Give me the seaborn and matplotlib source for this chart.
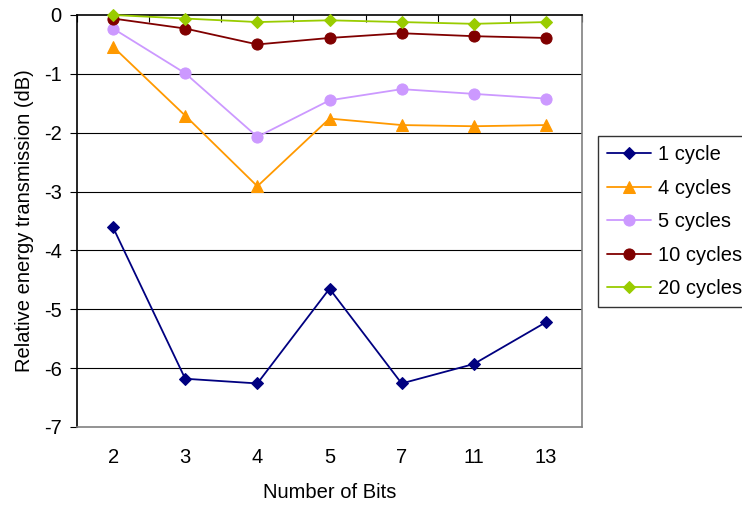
import numpy as np
import pandas as pd
import matplotlib
matplotlib.use("Agg")
import matplotlib.pyplot as plt
import seaborn as sns

bits = ["2", "3", "4", "5", "7", "11", "13"]
series_names = ["1 cycle", "4 cycles", "5 cycles", "10 cycles", "20 cycles"]
cycle1 = [-3.61, -6.18, -6.26, -4.65, -6.26, -5.93, -5.22]
cycle4 = [-0.54, -1.71, -2.91, -1.76, -1.87, -1.89, -1.87]
cycle5 = [-0.23, -0.99, -2.07, -1.45, -1.26, -1.34, -1.42]
cycle10 = [-0.06, -0.23, -0.50, -0.39, -0.31, -0.36, -0.39]
cycle20 = [0.0, -0.06, -0.12, -0.09, -0.12, -0.15, -0.12]
yticks = [0, -1, -2, -3, -4, -5, -6, -7]

colors = ["#000080", "#FF9900", "#CC99FF", "#800000", "#99CC00"]
markers = ["D", "^", "o", "o", "D"]
msizes = [6, 8, 8, 8, 6]

values = [cycle1, cycle4, cycle5, cycle10, cycle20]
df = pd.DataFrame({
    "bits": bits * len(series_names),
    "val": sum(values, []),
    "series": sum([[n] * len(bits) for n in series_names], []),
})

sns.set_theme(style="white")
plt.rcParams["font.family"] = ["Liberation Sans", "DejaVu Sans"]
plt.rcParams["axes.unicode_minus"] = False
plt.rcParams["text.color"] = "black"
plt.rcParams["axes.labelcolor"] = "black"
plt.rcParams["xtick.color"] = "black"
plt.rcParams["ytick.color"] = "black"

FS = 14.5

fig = plt.figure(figsize=(7.42, 5.07), dpi=100)
ax = fig.add_axes([77 / 742, 1 - 427 / 507, (582 - 77) / 742, (427 - 15) / 507])

for name, c, m, ms in zip(series_names, colors, markers, msizes):
    sub = df[df["series"] == name]
    sns.lineplot(data=sub, x="bits", y="val", ax=ax, color=c, marker=m,
                 markersize=ms, markeredgecolor=c, linewidth=1.3,
                 label=name, sort=False, clip_on=False, zorder=3)

ax.set_xlim(-0.5, 6.5)
ax.set_ylim(-7, 0)
ax.set_yticks(yticks)
ax.set_yticklabels([str(t) for t in yticks], fontsize=FS)
ax.set_xticks(range(len(bits)))
ax.set_xticklabels(bits, fontsize=FS)
ax.set_xticks(np.arange(-0.5, 7, 1.0), minor=True)

for t in yticks[1:-1]:
    ax.axhline(t, color="black", lw=0.8, zorder=1)

ax.tick_params(axis="y", which="major", left=True, direction="out", length=5,
               width=0.8, color="black", pad=6)
ax.tick_params(axis="x", which="major", bottom=True, top=False, length=0, pad=15)
ax.tick_params(axis="x", which="minor", bottom=False, top=True, direction="in",
               length=5, width=0.8, color="black")

for s in ["left", "top"]:
    ax.spines[s].set_color("black")
    ax.spines[s].set_linewidth(1.2)
for s in ["right", "bottom"]:
    ax.spines[s].set_color("#808080")
    ax.spines[s].set_linewidth(1.2)

ax.set_xlabel("Number of Bits", fontsize=FS, labelpad=12)
ax.set_ylabel("Relative energy transmission (dB)", fontsize=FS, labelpad=7)

leg = ax.legend(loc="upper left", bbox_to_anchor=(598 / 742, 1 - 136 / 507),
                bbox_transform=fig.transFigure, borderaxespad=0, fontsize=FS,
                frameon=True, fancybox=False, edgecolor="black",
                handlelength=2.2, handletextpad=0.35, labelspacing=0.72,
                borderpad=0.45)
leg.get_frame().set_linewidth(1.0)

fig.savefig("out.png", dpi=100)
